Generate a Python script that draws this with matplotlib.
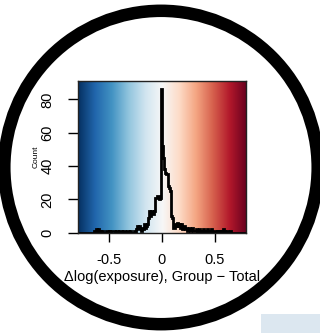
import numpy as np
import matplotlib
matplotlib.use("Agg")
import matplotlib.pyplot as plt
from matplotlib.patches import Circle, Rectangle

plt.rcParams['font.family'] = ['Liberation Sans', 'DejaVu Sans']

# histogram of delta log exposure, bins of 0.01 from -0.8 to 0.8
bin_edges = np.round(np.arange(-0.80, 0.805, 0.01), 2)
counts = [
    0, 0, 0, 0, 0, 0, 0, 0, 0, 0,
    0, 0, 0, 0, 0, 1, 0, 2, 1, 2,
    1, 1, 0, 1, 0, 0, 0, 1, 1, 0,
    1, 0, 1, 1, 1, 0, 1, 1, 0, 1,
    1, 1, 0, 1, 1, 0, 0, 1, 1, 0,
    1, 0, 0, 1, 0, 2, 4, 3, 4, 2,
    1, 3, 2, 5, 3, 4, 5, 9, 13, 10,
    13, 11, 13, 21, 21, 22, 22, 20, 21, 86,
    52, 45, 38, 36, 35, 35, 28, 27, 25, 10,
    9, 3, 5, 4, 6, 4, 5, 3, 5, 2,
    3, 4, 2, 3, 1, 2, 3, 1, 2, 3,
    1, 1, 2, 0, 1, 2, 1, 0, 1, 2,
    0, 1, 0, 2, 1, 0, 1, 2, 0, 1,
    1, 0, 1, 0, 1, 0, 1, 0, 2, 1,
    0, 0, 1, 0, 0, 1, 0, 0, 0, 0,
    0, 0, 0, 0, 0, 0, 0, 0, 0, 0,
]
x_ticks = [-0.5, 0, 0.5]
x_ticklabels = ['-0.5', '0', '0.5']
y_ticks = [0, 20, 40, 60, 80]

fig = plt.figure(figsize=(3.2, 3.33), dpi=100)

# round frame in pixel coordinates
bg = fig.add_axes([0, 0, 1, 1], zorder=0)
bg.set_xlim(0, 320)
bg.set_ylim(333, 0)
bg.axis('off')
bg.add_patch(Circle((161, 167.5), 156.7, fill=False, lw=9, color='black'))
bg.add_patch(Rectangle((261, 314), 59, 19, color='#dce7f0', lw=0))

ax = fig.add_axes([0.243, 0.301, 0.526, 0.4556], zorder=1)
xmin, xmax, ymax = -0.8, 0.8, 91
grad = np.linspace(0, 1, 256).reshape(1, -1)
ax.imshow(grad, cmap='RdBu_r', extent=(xmin, xmax, 0, ymax), aspect='auto',
          interpolation='bilinear', zorder=0)
ax.stairs(counts, bin_edges, color='black', lw=2, zorder=2)

ax.set_xlim(xmin, xmax)
ax.set_ylim(0, ymax)
ax.set_xticks(x_ticks)
ax.set_xticklabels(x_ticklabels)
ax.set_yticks(y_ticks)
ax.set_yticklabels([str(v) for v in y_ticks], rotation=90, va='center')
ax.tick_params(axis='x', length=6.5, width=1, pad=8, labelsize=10.5)
ax.tick_params(axis='y', length=7, width=1, pad=10, labelsize=10.5)
for s in ax.spines.values():
    s.set_linewidth(1)
    s.set_color('#222222')

ax.set_xlabel('Δlog(exposure), Group − Total', fontsize=10.5, labelpad=2.5)
ax.set_ylabel('Count', fontsize=6, labelpad=0.5)

fig.savefig('out.png', dpi=100)
